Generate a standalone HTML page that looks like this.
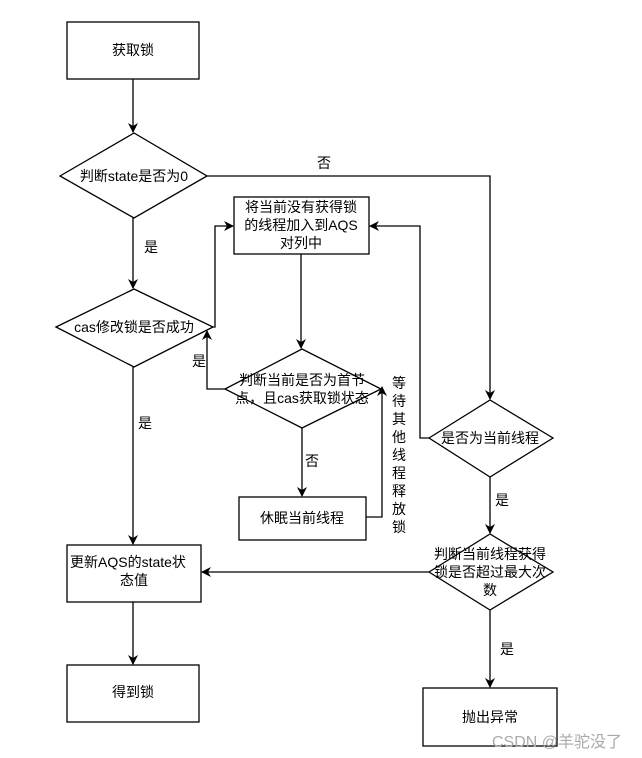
<!DOCTYPE html>
<html><head><meta charset="utf-8"><style>
html,body{margin:0;padding:0;background:#fff;}
svg{display:block;}
text{font-family:"Liberation Sans","Noto Sans CJK SC",sans-serif;font-size:14px;fill:#000;}
</style></head><body>
<svg width="642" height="758" viewBox="0 0 642 758" xmlns="http://www.w3.org/2000/svg">
<defs><marker id="a" markerWidth="10" markerHeight="10" refX="9" refY="5" orient="auto" markerUnits="userSpaceOnUse"><path d="M0,0 L10,5 L0,10 L3,5 Z" fill="#000"/></marker></defs>
<g fill="#fff" stroke="#000" stroke-width="1.3">
<rect x="67" y="22" width="132" height="57"/>
<polygon points="60,176 134,133 207,176 134,218"/>
<polygon points="56,327 134,289 213,327 134,367"/>
<rect x="234" y="197" width="135" height="57"/>
<polygon points="225,389 302,349 381,389 302,428"/>
<rect x="239" y="497" width="127" height="43"/>
<polygon points="429,438 490,400 553,438 490,477"/>
<polygon points="429,572 490,534 553,572 490,610"/>
<rect x="67" y="545" width="134" height="57"/>
<rect x="67" y="665" width="132" height="57"/>
<rect x="423" y="688" width="134" height="58"/>
</g>
<g fill="none" stroke="#000" stroke-width="1.3" marker-end="url(#a)">
<path d="M133,79 V132"/>
<path d="M207,176 H490 V399"/>
<path d="M133,218 V288"/>
<path d="M213,327 H215 V226 H233"/>
<path d="M301,254 V348"/>
<path d="M225,389 H207 V331"/>
<path d="M302,428 V496"/>
<path d="M366,517 H382 V387"/>
<path d="M429,438 H420 V226 H370"/>
<path d="M490,477 V533"/>
<path d="M429,572 H202"/>
<path d="M133,367 V544"/>
<path d="M133,602 V664"/>
<path d="M490,610 V687"/>
</g>
<g text-anchor="middle">
<text x="133" y="55">获取锁</text>
<text x="134" y="181">判断state是否为0</text>
<text x="134" y="332">cas修改锁是否成功</text>
<text x="301" y="212">将当前没有获得锁</text>
<text x="301" y="230">的线程加入到AQS</text>
<text x="301" y="248">对列中</text>
<text x="302" y="385">判断当前是否为首节</text>
<text x="302" y="403">点，且cas获取锁状态</text>
<text x="302" y="523">休眠当前线程</text>
<text x="490" y="443">是否为当前线程</text>
<text x="490" y="559">判断当前线程获得</text>
<text x="490" y="577">锁是否超过最大次</text>
<text x="490" y="595">数</text>
<text x="134" y="585">态值</text>
<text x="133" y="697">得到锁</text>
<text x="490" y="722">抛出异常</text>
<text x="324" y="168">否</text>
<text x="151" y="252">是</text>
<text x="199" y="366">是</text>
<text x="312" y="466">否</text>
<text x="145" y="428">是</text>
<text x="502" y="505">是</text>
<text x="507" y="654">是</text>
</g>
<text x="70" y="567">更新AQS的state状</text>
<g text-anchor="middle">
<text x="399" y="388">等</text><text x="399" y="406">待</text><text x="399" y="424">其</text><text x="399" y="442">他</text><text x="399" y="460">线</text><text x="399" y="478">程</text><text x="399" y="496">释</text><text x="399" y="514">放</text><text x="399" y="532">锁</text>
</g>
<text x="492" y="747" style="font-size:16px;fill:#aaa">CSDN @羊驼没了</text>
</svg>
</body></html>
